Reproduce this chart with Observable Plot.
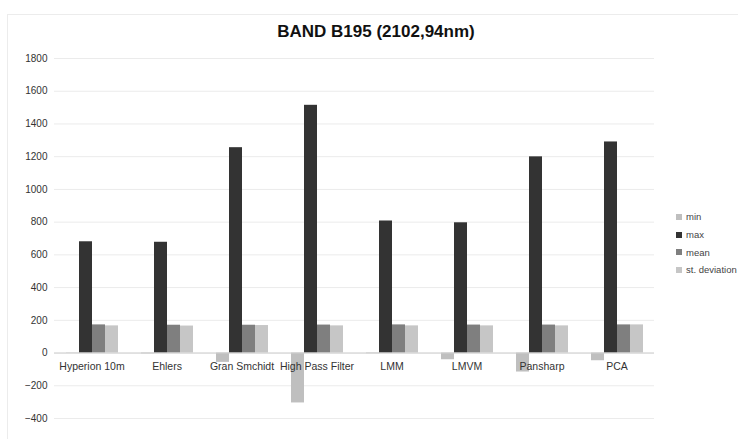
<!DOCTYPE html>
<html>
<head>
<meta charset="utf-8">
<script src="https://cdn.jsdelivr.net/npm/d3@7"></script>
<script src="https://cdn.jsdelivr.net/npm/@observablehq/plot@0.6"></script>
<style>
  body { margin: 0; background: #fff; font-family: "Liberation Sans", Arial, sans-serif; }
  #wrap { position: relative; width: 738px; height: 439px; }
  #border { position: absolute; left: 7px; top: 14px; width: 740px; height: 440px; border: 1px solid #ececec; box-sizing: border-box; }
  #title { position: absolute; left: 0; width: 752px; top: 22px; text-align: center; font-weight: bold; font-size: 17px; color: #111; }
  #legend { position: absolute; left: 676px; top: 208px; font-size: 9.5px; color: #444; }
  #legend div { height: 17.7px; display: flex; align-items: center; white-space: nowrap; }
  #legend span.sw { display: inline-block; width: 6px; height: 6px; margin-right: 4px; }
  svg { position: absolute; left: 0; top: 0; }
</style>
</head>
<body>
<div id="wrap">
  <div id="border"></div>
  <div id="title">BAND B195 (2102,94nm)</div>
  <div id="legend"></div>
</div>
<script>
const categories = ["Hyperion 10m", "Ehlers", "Gran Smchidt", "High Pass Filter", "LMM", "LMVM", "Pansharp", "PCA"];
const series = ["min", "max", "mean", "st. deviation"];
const minValues = [-2, -5, -57, -305, -4, -41, -116, -47];
const maxValues = [680, 677, 1255, 1514, 807, 796, 1199, 1290];
const meanValues = [172, 170, 170, 171, 172, 171, 171, 172];
const stdValues = [166, 165, 168, 166, 166, 166, 166, 172];
const colors = ["#bfbfbf", "#333333", "#7f7f7f", "#c6c6c6"];
const yTicks = [-400, -200, 0, 200, 400, 600, 800, 1000, 1200, 1400, 1600, 1800];

const valuesBySeries = [minValues, maxValues, meanValues, stdValues];
const data = [];
categories.forEach((c, i) => {
  series.forEach((s, j) => data.push({category: c, series: s, value: valuesBySeries[j][i]}));
});

const plot = Plot.plot({
  width: 738,
  height: 439,
  marginLeft: 50,
  marginRight: 81,
  marginTop: 58,
  marginBottom: 21,
  style: {background: "transparent", fontFamily: "Liberation Sans, Arial, sans-serif", fontSize: "10px", color: "#333"},
  fx: {domain: categories, padding: 0, axis: null},
  x: {domain: series, paddingInner: 0, paddingOuter: 0.77, axis: null},
  y: {domain: [-400, 1800], ticks: yTicks, tickFormat: d3.format("d"), tickSize: 0, tickPadding: 7, label: null},
  color: {domain: series, range: colors},
  marks: [
    Plot.gridY(yTicks, {stroke: "#ebebeb", strokeOpacity: 1}),
    Plot.barY(data, {fx: "category", x: "series", y: "value", fill: "series"}),
    Plot.ruleY([0], {stroke: "#cfcfcf"}),
    Plot.text(categories, {fx: d => d, y: () => 0, text: d => d, dy: 14, fill: "#333", fontSize: 10.5, frameAnchor: "middle"}),
    Plot.axisY(yTicks, {tickSize: 0, tickPadding: 7, tickFormat: d3.format("d"), fontSize: 10, fill: "#333", label: null})
  ]
});

const wrap = document.getElementById("wrap");
wrap.insertBefore(plot, document.getElementById("title"));

const legend = document.getElementById("legend");
series.forEach((s, j) => {
  const row = document.createElement("div");
  const sw = document.createElement("span");
  sw.className = "sw";
  sw.style.background = colors[j];
  row.appendChild(sw);
  row.appendChild(document.createTextNode(s));
  legend.appendChild(row);
});
</script>
</body>
</html>
